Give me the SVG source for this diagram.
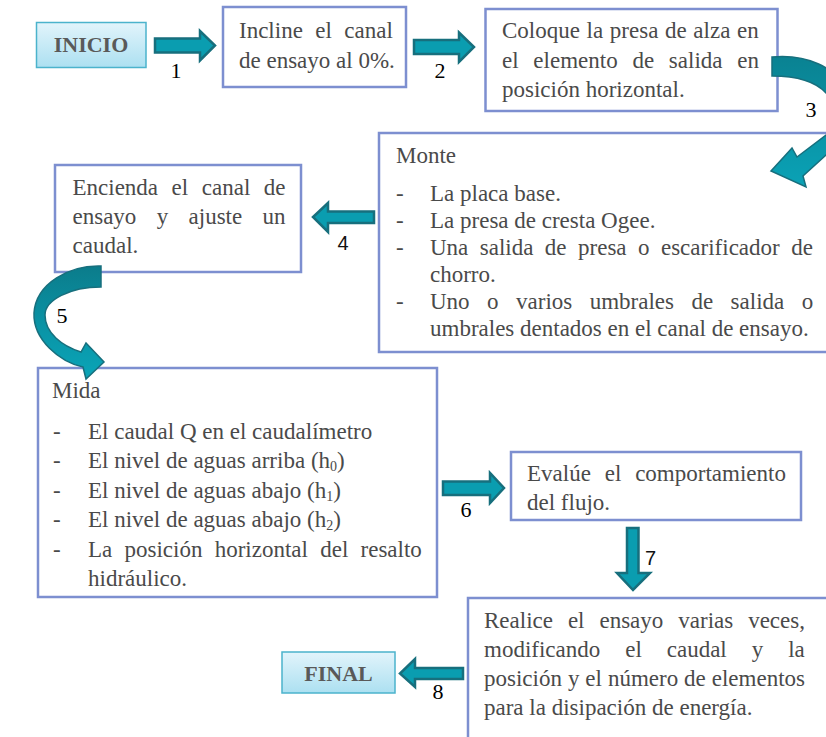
<svg xmlns="http://www.w3.org/2000/svg" width="826" height="737" viewBox="0 0 826 737">
<defs>
<linearGradient id="termGrad" x1="0" y1="0" x2="0" y2="1">
<stop offset="0" stop-color="#e2f4fb"/>
<stop offset="1" stop-color="#ace0f1"/>
</linearGradient>
<linearGradient id="curveGrad3" x1="0" y1="0" x2="0" y2="1">
<stop offset="0" stop-color="#0a8292"/>
<stop offset="1" stop-color="#0aa2b6"/>
</linearGradient>
<linearGradient id="curveGrad5" x1="0" y1="0" x2="0" y2="1">
<stop offset="0" stop-color="#0b7c8b"/>
<stop offset="0.5" stop-color="#0a92a4"/>
<stop offset="1" stop-color="#0aa5b8"/>
</linearGradient>
</defs>
<style>
.box{fill:#ffffff;stroke:#7d8fd0;stroke-width:2.5}
.term{fill:url(#termGrad);stroke:#4bb3cc;stroke-width:1.5}
.t{font-family:"Liberation Serif","Times New Roman",serif;font-size:23px;fill:#4a4a4a}
.tt{font-family:"Liberation Serif","Times New Roman",serif;font-size:22px;font-weight:bold;fill:#595959}
.sub{font-size:14px}
.arr{fill:#0a9db0;stroke:#176f7d;stroke-width:2.5;stroke-linejoin:miter}
.carr{stroke:#176f7d;stroke-width:1.5;stroke-linejoin:miter}
.num{font-family:"Liberation Serif","Times New Roman",serif;font-size:22px;fill:#000000}
.nums{font-family:"Liberation Sans",Arial,sans-serif;font-size:20px;fill:#111111}
</style>
<rect width="826" height="737" fill="#ffffff"/>

<g id="inicio">
<rect class="term" x="36.5" y="22.5" width="109.5" height="45"/>
<text class="tt" x="91" y="52" text-anchor="middle">INICIO</text>
</g>

<g id="incline">
<rect class="box" x="223" y="7" width="183" height="80"/>
<text class="t" x="239" y="38" style="word-spacing:6.7px">Incline el canal</text>
<text class="t" x="239" y="68">de ensayo al 0%.</text>
</g>

<g id="coloque">
<rect class="box" x="485.5" y="9" width="292" height="102"/>
<text class="t" x="502" y="38" style="word-spacing:0.9px">Coloque la presa de alza en</text>
<text class="t" x="502" y="68" style="word-spacing:9px">el elemento de salida en</text>
<text class="t" x="502" y="97">posición horizontal.</text>
</g>

<g id="monte">
<rect class="box" x="379" y="133" width="460" height="219"/>
<text class="t" x="396" y="163">Monte</text>
<text class="t" x="396" y="201">-</text>
<text class="t" x="430" y="201">La placa base.</text>
<text class="t" x="396" y="228">-</text>
<text class="t" x="430" y="228">La presa de cresta Ogee.</text>
<text class="t" x="396" y="255">-</text>
<text class="t" x="430" y="255" style="word-spacing:5.7px">Una salida de presa o escarificador de</text>
<text class="t" x="430" y="282">chorro.</text>
<text class="t" x="396" y="309">-</text>
<text class="t" x="430" y="309" style="word-spacing:11.7px">Uno o varios umbrales de salida o</text>
<text class="t" x="430" y="336">umbrales dentados en el canal de ensayo.</text>
</g>

<g id="encienda">
<rect class="box" x="55" y="165" width="246" height="107"/>
<text class="t" x="72.5" y="195" style="word-spacing:7.8px">Encienda el canal de</text>
<text class="t" x="72.5" y="224" style="word-spacing:14.6px">ensayo y ajuste un</text>
<text class="t" x="72.5" y="253">caudal.</text>
</g>

<g id="mida">
<rect class="box" x="38" y="368" width="399" height="229"/>
<text class="t" x="52" y="398">Mida</text>
<text class="t" x="53" y="439">-</text>
<text class="t" x="88" y="439">El caudal Q en el caudalímetro</text>
<text class="t" x="53" y="468">-</text>
<text class="t" x="88" y="468">El nivel de aguas arriba (h<tspan class="sub" dy="3">0</tspan><tspan dy="-3">)</tspan></text>
<text class="t" x="53" y="498">-</text>
<text class="t" x="88" y="498">El nivel de aguas abajo (h<tspan class="sub" dy="3">1</tspan><tspan dy="-3">)</tspan></text>
<text class="t" x="53" y="527">-</text>
<text class="t" x="88" y="527">El nivel de aguas abajo (h<tspan class="sub" dy="3">2</tspan><tspan dy="-3">)</tspan></text>
<text class="t" x="53" y="557">-</text>
<text class="t" x="88" y="557" style="word-spacing:6.5px">La posición horizontal del resalto</text>
<text class="t" x="88" y="586">hidráulico.</text>
</g>

<g id="evalue">
<rect class="box" x="511" y="452" width="290" height="68"/>
<text class="t" x="527" y="481" style="word-spacing:8.1px">Evalúe el comportamiento</text>
<text class="t" x="527" y="510">del flujo.</text>
</g>

<g id="realice">
<rect class="box" x="468" y="598" width="370" height="150"/>
<text class="t" x="484" y="628" style="word-spacing:9.2px">Realice el ensayo varias veces,</text>
<text class="t" x="484" y="657" style="word-spacing:19.2px">modificando el caudal y la</text>
<text class="t" x="484" y="686" style="word-spacing:0.2px">posición y el número de elementos</text>
<text class="t" x="484" y="715">para la disipación de energía.</text>
</g>

<g id="final">
<rect class="term" x="282" y="652" width="113" height="41"/>
<text class="tt" x="338.5" y="681" text-anchor="middle">FINAL</text>
</g>

<g id="connectors">
<path class="arr" d="M155,38.5 L200,38.5 L200,31 L215,45.5 L200,60.5 L200,52.5 L155,52.5 Z"/>
<path class="arr" d="M414,40 L459,40 L459,32.5 L474,47 L459,62 L459,54 L414,54 Z"/>
<path class="carr" fill="url(#curveGrad3)" d="M772,57 C805,54 838,66 848,95 C856,120 845,145 826,155 L803,176 L806,187 L771,171 L792,148 L797,157 L826,135 C836,125 838,105 826,93 C815,81 795,76 772,76 Z"/>
<path class="arr" d="M374,211.5 L328,211.5 L328,203 L313,217 L328,232 L328,223 L374,223 Z"/>
<path class="carr" fill="url(#curveGrad5)" d="M101,266 C70,265 36,283 34,313 C33,340 60,362 83,367 L86,379 L104,362 L86,343 L81,352 C62,346 45,333 45,315 C45,300 70,287 101,287 Z"/>
<path class="arr" d="M443,481.5 L490,481.5 L490,473 L504,488 L490,503 L490,495 L443,495 Z"/>
<path class="arr" d="M627,528 L638.5,528 L638.5,573 L650,573 L633,590 L617,573 L627,573 Z"/>
<path class="arr" d="M463,668 L415,668 L415,659 L400,673.5 L415,687 L415,679 L463,679 Z"/>
<text class="num" x="176" y="78" text-anchor="middle">1</text>
<text class="num" x="440" y="78" text-anchor="middle">2</text>
<text class="num" x="811" y="117" text-anchor="middle">3</text>
<text class="nums" x="343" y="250" text-anchor="middle">4</text>
<text class="num" x="62" y="323" text-anchor="middle">5</text>
<text class="num" x="466" y="517" text-anchor="middle">6</text>
<text class="nums" x="645" y="565">7</text>
<text class="num" x="438" y="699" text-anchor="middle">8</text>
</g>
</svg>
